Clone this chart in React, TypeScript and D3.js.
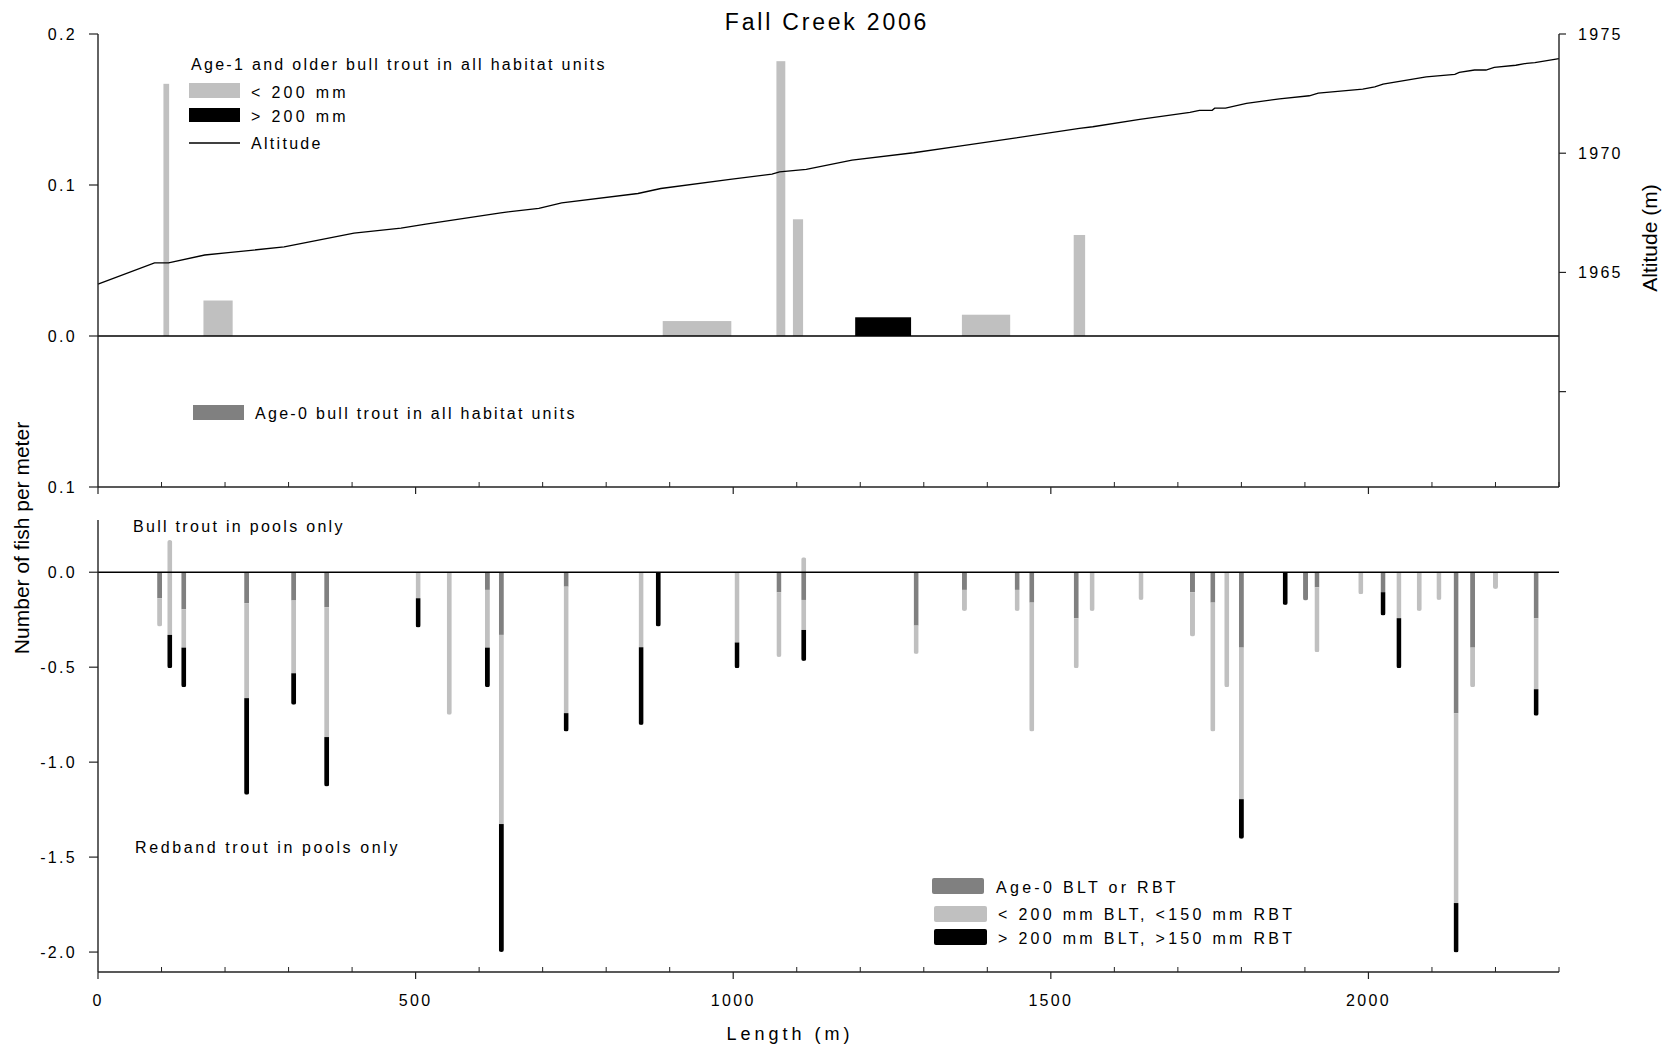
import React from "react";
import * as d3 from "d3";

// ---------- Top panel: age-1 and older bull trout in all habitat units ----------
const topStart = [103, 166, 889, 1068, 1094, 1192, 1360, 1536];
const topEnd = [112, 212, 997, 1082, 1110, 1280, 1436, 1554];
const topValue = [0.167, 0.0235, 0.0099, 0.182, 0.0773, 0.0124, 0.0141, 0.0669];
const topClass = ["small", "small", "small", "small", "small", "large", "small", "small"];

// ---------- Altitude profile ----------
const altDist = [0, 89, 111, 168, 209, 293, 343, 403, 477, 516, 634, 694, 730, 850, 886, 995, 1061, 1073, 1115, 1187, 1284, 1356, 1440, 1545, 1566, 1640, 1719, 1734, 1754, 1758, 1775, 1808, 1860, 1907, 1921, 1991, 2010, 2023, 2091, 2136, 2143, 2167, 2185, 2198, 2232, 2249, 2262, 2300];
const altValue = [1964.51, 1965.4, 1965.4, 1965.73, 1965.84, 1966.07, 1966.33, 1966.65, 1966.86, 1967.03, 1967.5, 1967.69, 1967.92, 1968.31, 1968.52, 1968.9, 1969.12, 1969.22, 1969.32, 1969.71, 1970.02, 1970.3, 1970.62, 1971.04, 1971.11, 1971.42, 1971.71, 1971.8, 1971.8, 1971.89, 1971.89, 1972.09, 1972.28, 1972.41, 1972.52, 1972.69, 1972.78, 1972.9, 1973.2, 1973.31, 1973.39, 1973.49, 1973.49, 1973.6, 1973.69, 1973.77, 1973.8, 1973.97];

// ---------- Bottom panel: pools only ----------
const poolDist = [97, 113, 135, 234, 308, 360, 504, 553, 613, 635, 737, 855, 882, 1006, 1072, 1111, 1288, 1364, 1447, 1470, 1540, 1565, 1642, 1723, 1755, 1777, 1800, 1869, 1901, 1919, 1988, 2023, 2048, 2080, 2111, 2138, 2164, 2200, 2264];
const poolAge0 = [0.137, 0, 0.195, 0.163, 0.149, 0.184, 0, 0, 0.093, 0.33, 0.076, 0, 0, 0, 0.105, 0.146, 0.281, 0.093, 0.093, 0.16, 0.242, 0, 0, 0.105, 0.16, 0, 0.397, 0, 0.149, 0.079, 0, 0.105, 0, 0, 0, 0.742, 0.397, 0, 0.242];
const poolSmall = [0.149, 0.33, 0.202, 0.5, 0.383, 0.684, 0.137, 0.751, 0.304, 0.996, 0.666, 0.395, 0, 0.37, 0.342, 0.158, 0.149, 0.111, 0.111, 0.679, 0.263, 0.204, 0.146, 0.234, 0.679, 0.605, 0.798, 0, 0, 0.342, 0.116, 0, 0.242, 0.204, 0.146, 1.0, 0.208, 0.088, 0.374];
const poolLarge = [0, 0.175, 0.208, 0.509, 0.166, 0.26, 0.154, 0, 0.208, 0.674, 0.097, 0.409, 0.286, 0.135, 0, 0.163, 0, 0, 0, 0, 0, 0, 0, 0, 0, 0, 0.209, 0.172, 0, 0, 0, 0.123, 0.263, 0, 0, 0.26, 0, 0, 0.14];
const poolBull = [0, 0.17, 0, 0, 0, 0, 0, 0, 0, 0, 0, 0, 0, 0, 0, 0.079, 0, 0, 0, 0, 0, 0, 0, 0, 0, 0, 0, 0, 0, 0, 0, 0, 0, 0, 0, 0, 0, 0, 0];

// ---------- Tick labels ----------
const xTicks = [0, 500, 1000, 1500, 2000];
const topYTicks = [0.2, 0.1, 0.0, -0.1];
const topYLabels = ["0.2", "0.1", "0.0", "0.1"];
const altTicks = [1960, 1965, 1970, 1975];
const altLabels = ["", "1965", "1970", "1975"];
const botYTicks = [0, -0.5, -1.0, -1.5, -2.0];
const botYLabels = ["0.0", "-0.5", "-1.0", "-1.5", "-2.0"];

const C_DARK = "#808080";
const C_LIGHT = "#c0c0c0";
const C_BLACK = "#000000";
const FONT = "'Liberation Sans', Arial, Helvetica, sans-serif";

export default function App() {
  const W = 1671, H = 1051;
  const x = d3.scaleLinear().domain([0, 2300]).range([98, 1559]);
  const yTop = d3.scaleLinear().domain([-0.1, 0.2]).range([487, 34]);
  const yAlt = d3.scaleLinear().domain([1956, 1975]).range([487, 34]);
  const yBot = d3.scaleLinear().domain([-2.105, 0.275]).range([972, 520]);

  const altLine = d3.line<number>()
    .x((_, i) => x(altDist[i]))
    .y((d) => yAlt(d));

  const minorTicks = d3.range(0, 2301, 100);
  const barW = 5;
  const txt = { fontFamily: FONT, fontSize: 16, letterSpacing: 2.3, fill: "#000" } as any;
  const legTxt = { ...txt, letterSpacing: 3.3 };
  const axisStroke = "#222";

  const renderXAxis = (yPos: number, key: string) => (
    <g key={key}>
      <line x1={x(0)} x2={x(2300)} y1={yPos} y2={yPos} stroke={axisStroke} strokeWidth={1.4} />
      {minorTicks.map((t) =>
        t % 500 === 0 ? (
          <line key={t} x1={x(t)} x2={x(t)} y1={yPos} y2={yPos + 7} stroke={axisStroke} strokeWidth={1.2} />
        ) : (
          <line key={t} x1={x(t)} x2={x(t)} y1={yPos - 5} y2={yPos} stroke={axisStroke} strokeWidth={1} />
        )
      )}
    </g>
  );

  return (
    <svg width={W} height={H} style={{ position: "absolute", left: 0, top: 0, background: "#fff" }}>
      <rect x={0} y={0} width={W} height={H} fill="#fff" />
      {/* Title */}
      <text x={827} y={30} textAnchor="middle" style={{ ...txt, fontSize: 23, letterSpacing: 2.8 }}>Fall Creek 2006</text>

      {/* ---------------- Top panel ---------------- */}
      {topValue.map((v, i) => (
        <rect key={"tb" + i} x={x(topStart[i])} width={x(topEnd[i]) - x(topStart[i])}
          y={yTop(v)} height={yTop(0) - yTop(v)}
          fill={topClass[i] === "large" ? C_BLACK : C_LIGHT} />
      ))}
      <path d={altLine(altValue) || ""} fill="none" stroke="#000" strokeWidth={1.3} />
      <line x1={x(0)} x2={x(2300)} y1={yTop(0)} y2={yTop(0)} stroke="#000" strokeWidth={1.3} />

      {/* left axis top */}
      <line x1={x(0)} x2={x(0)} y1={yTop(0.2)} y2={yTop(-0.1)} stroke={axisStroke} strokeWidth={1.4} />
      {topYTicks.map((t, i) => (
        <g key={"tyt" + i}>
          <line x1={x(0) - 9} x2={x(0)} y1={yTop(t)} y2={yTop(t)} stroke={axisStroke} strokeWidth={1.2} />
          <text x={77} y={yTop(t) + 6} textAnchor="end" style={txt}>{topYLabels[i]}</text>
        </g>
      ))}
      {/* right axis */}
      <line x1={x(2300)} x2={x(2300)} y1={yAlt(1975)} y2={yAlt(1956)} stroke={axisStroke} strokeWidth={1.4} />
      {altTicks.map((t, i) => (
        <g key={"at" + i}>
          <line x1={x(2300)} x2={x(2300) + 7} y1={yAlt(t)} y2={yAlt(t)} stroke={axisStroke} strokeWidth={1.2} />
          <text x={1578} y={yAlt(t) + 6} style={txt}>{altLabels[i]}</text>
        </g>
      ))}
      <text transform={`translate(1657,238) rotate(-90)`} textAnchor="middle"
        style={{ fontFamily: FONT, fontSize: 21, fill: "#000" }}>Altitude (m)</text>
      {renderXAxis(yTop(-0.1), "xa-top")}

      {/* top legend */}
      <text x={191} y={70} style={txt}>Age-1 and older bull trout in all habitat units</text>
      <rect x={189} y={83} width={51} height={15} fill={C_LIGHT} />
      <text x={251} y={98} style={legTxt}>&lt; 200 mm</text>
      <rect x={189} y={108} width={51} height={14} fill={C_BLACK} />
      <text x={251} y={122} style={legTxt}>&gt; 200 mm</text>
      <line x1={189} x2={240} y1={143} y2={143} stroke="#000" strokeWidth={1.3} />
      <text x={251} y={149} style={txt}>Altitude</text>
      <rect x={193} y={405} width={51} height={15} fill={C_DARK} />
      <text x={255} y={419} style={txt}>Age-0 bull trout in all habitat units</text>

      {/* ---------------- Bottom panel ---------------- */}
      <defs>
        {poolDist.map((d, i) => {
          const total = poolAge0[i] + poolSmall[i] + poolLarge[i];
          const top = poolBull[i] > 0 ? yBot(poolBull[i]) : yBot(0) - barW;
          const bottom = total > 0 ? yBot(-total) : yBot(0) + barW;
          return (
            <clipPath id={"pc" + i} key={"pc" + i}>
              <rect x={x(d) - barW / 2} y={top} width={barW} height={bottom - top} rx={barW / 2} ry={barW / 2} />
            </clipPath>
          );
        })}
      </defs>
      {poolDist.map((d, i) => {
        const a = poolAge0[i], s = poolSmall[i], l = poolLarge[i], b = poolBull[i];
        const segs = [
          { y0: 0, y1: b, c: C_LIGHT },
          { y0: 0, y1: -a, c: C_DARK },
          { y0: -a, y1: -(a + s), c: C_LIGHT },
          { y0: -(a + s), y1: -(a + s + l), c: C_BLACK },
        ].filter((sg) => sg.y0 !== sg.y1);
        return (
          <g key={"pb" + i} clipPath={`url(#pc${i})`}>
            {segs.map((sg, j) => {
              const ya = yBot(Math.max(sg.y0, sg.y1));
              const yb = yBot(Math.min(sg.y0, sg.y1));
              return <rect key={j} x={x(d) - barW / 2} width={barW} y={ya} height={yb - ya} fill={sg.c} />;
            })}
          </g>
        );
      })}
      <line x1={x(0)} x2={x(2300)} y1={yBot(0)} y2={yBot(0)} stroke="#000" strokeWidth={1.3} />
      <line x1={x(0)} x2={x(0)} y1={yBot(0.275)} y2={yBot(-2.105)} stroke={axisStroke} strokeWidth={1.4} />
      {botYTicks.map((t, i) => (
        <g key={"byt" + i}>
          <line x1={x(0) - 9} x2={x(0)} y1={yBot(t)} y2={yBot(t)} stroke={axisStroke} strokeWidth={1.2} />
          <text x={77} y={yBot(t) + 6} textAnchor="end" style={txt}>{botYLabels[i]}</text>
        </g>
      ))}
      {renderXAxis(yBot(-2.105), "xa-bot")}
      {xTicks.map((t) => (
        <text key={"xl" + t} x={x(t)} y={1006} textAnchor="middle" style={txt}>{t}</text>
      ))}
      <text x={790} y={1040} textAnchor="middle" style={{ ...txt, fontSize: 18, letterSpacing: 4 }}>Length (m)</text>
      <text transform={`translate(29,538) rotate(-90)`} textAnchor="middle"
        style={{ fontFamily: FONT, fontSize: 21, fill: "#000" }}>Number of fish per meter</text>

      <text x={133} y={532} style={txt}>Bull trout in pools only</text>
      <text x={135} y={853} style={{ ...txt, letterSpacing: 2.6 }}>Redband trout in pools only</text>

      {/* bottom legend */}
      <rect x={932} y={878} width={52} height={16} rx={2} fill={C_DARK} />
      <text x={996} y={893} style={legTxt}>Age-0 BLT or RBT</text>
      <rect x={934} y={906} width={53} height={16} rx={2} fill={C_LIGHT} />
      <text x={998} y={920} style={legTxt}>&lt; 200 mm BLT, &lt;150 mm RBT</text>
      <rect x={934} y={929} width={53} height={16} rx={2} fill={C_BLACK} />
      <text x={998} y={944} style={legTxt}>&gt; 200 mm BLT, &gt;150 mm RBT</text>
    </svg>
  );
}
